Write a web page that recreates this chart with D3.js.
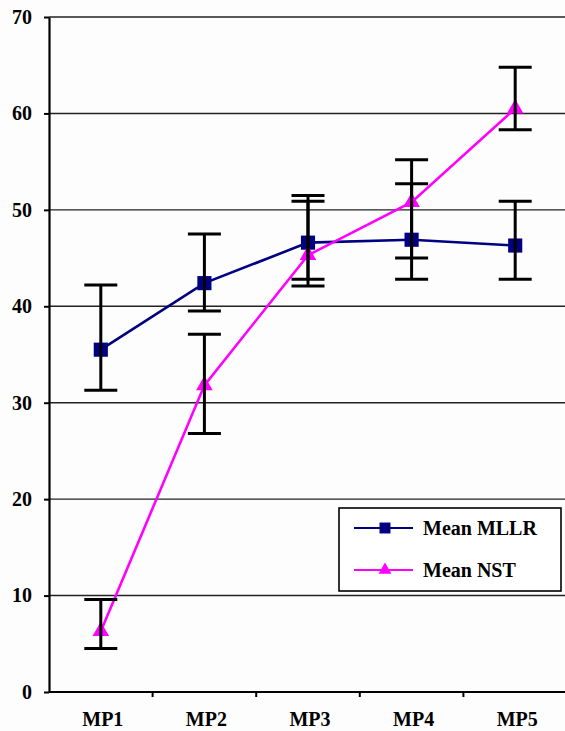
<!DOCTYPE html>
<html>
<head>
<meta charset="utf-8">
<script src="https://cdn.jsdelivr.net/npm/d3@7"></script>
<style>
  body { margin: 0; background: #fdfdfd; }
</style>
</head>
<body>
<figure id="meanChart" style="margin:0"></figure>
<script>
// categories and series
var points = ["MP1", "MP2", "MP3", "MP4", "MP5"];
var yTicks = [0, 10, 20, 30, 40, 50, 60, 70];

var mllrMean  = [35.5, 42.4, 46.6, 46.9, 46.3];
var mllrLower = [31.3, 39.5, 42.1, 42.8, 42.8];
var mllrUpper = [42.2, 47.5, 50.9, 52.7, 50.9];

var nstMean  = [6.3, 31.8, 45.3, 50.8, 60.5];
var nstLower = [4.5, 26.8, 42.8, 45.0, 58.3];
var nstUpper = [9.6, 37.1, 51.5, 55.2, 64.8];

var seriesNames = ["Mean MLLR", "Mean NST"];

function setFont(sel) {
    sel.attr("font-family", "Liberation Serif")
        .attr("font-weight", "bold")
        .attr("font-size", 20)
        .attr("fill", "#000");
}

function meanChart() {
    var width = 565, height = 731;

    var svg = d3.select("figure#meanChart")
        .append("svg")
        .attr("width", width)
        .attr("height", height);

    // scales
    var xScale = d3.scaleBand()
        .domain(points)
        .range([49, 567]);

    var yScale = d3.scaleLinear()
        .domain([0, 70])
        .range([692, 17]);

    // gridlines
    svg.append("g")
        .selectAll("line")
        .data(yTicks.slice(1))
        .enter()
        .append("line")
        .attr("x1", 49)
        .attr("x2", width)
        .attr("y1", function(d) { return yScale(d); })
        .attr("y2", function(d) { return yScale(d); })
        .attr("stroke", "#222")
        .attr("stroke-width", 1.4);

    // y axis
    var yAxis = svg.append("g")
        .attr("transform", "translate(49,0)")
        .call(d3.axisLeft(yScale).tickValues(yTicks).tickSize(5).tickPadding(12).tickSizeOuter(0));
    yAxis.select(".domain").attr("stroke", "#000").attr("stroke-width", 2.2);
    yAxis.selectAll(".tick line").attr("stroke", "#000").attr("stroke-width", 2);
    yAxis.selectAll("text").call(setFont);

    // x axis: ticks sit between the categories
    var xAxisG = svg.append("g")
        .attr("transform", "translate(0," + yScale(0) + ")");
    xAxisG.append("line")
        .attr("x1", 49).attr("x2", width)
        .attr("stroke", "#000").attr("stroke-width", 2.2);
    xAxisG.selectAll("line.tk")
        .data(points)
        .enter()
        .append("line")
        .attr("class", "tk")
        .attr("x1", function(d) { return xScale(d) + xScale.bandwidth(); })
        .attr("x2", function(d) { return xScale(d) + xScale.bandwidth(); })
        .attr("y1", 0).attr("y2", 5)
        .attr("stroke", "#000").attr("stroke-width", 2);
    xAxisG.selectAll("text")
        .data(points)
        .enter()
        .append("text")
        .attr("x", function(d) { return xScale(d) + xScale.bandwidth() / 2 + 2; })
        .attr("y", 34)
        .attr("text-anchor", "middle")
        .call(setFont)
        .text(function(d) { return d; });

    var cx = function(d, i) { return xScale(points[i]) + xScale.bandwidth() / 2; };

    var series = [
        {name: seriesNames[0], mean: mllrMean, lo: mllrLower, hi: mllrUpper, color: "#000080", symbol: d3.symbolSquare, size: 200},
        {name: seriesNames[1], mean: nstMean, lo: nstLower, hi: nstUpper, color: "#ff00ff", symbol: d3.symbolTriangle, size: 120}
    ];

    var line = d3.line()
        .x(cx)
        .y(function(d) { return yScale(d); });

    series.forEach(function(s) {
        svg.append("path")
            .datum(s.mean)
            .attr("d", line)
            .attr("fill", "none")
            .attr("stroke", s.color)
            .attr("stroke-width", 2.6);

        svg.append("g")
            .selectAll("path")
            .data(s.mean)
            .enter()
            .append("path")
            .attr("d", d3.symbol().type(s.symbol).size(s.size))
            .attr("transform", function(d, i) { return "translate(" + cx(d, i) + "," + yScale(d) + ")"; })
            .attr("fill", s.color);
    });

    // error bars on top
    series.forEach(function(s) {
        var g = svg.append("g").attr("stroke", "#000").attr("stroke-width", 3);
        s.mean.forEach(function(m, i) {
            var x = cx(m, i);
            g.append("line")
                .attr("x1", x).attr("x2", x)
                .attr("y1", yScale(s.lo[i])).attr("y2", yScale(s.hi[i]));
            [s.lo[i], s.hi[i]].forEach(function(v) {
                g.append("line")
                    .attr("x1", x - 16.5).attr("x2", x + 16.5)
                    .attr("y1", yScale(v)).attr("y2", yScale(v));
            });
        });
    });

    // legend
    var legend = svg.append("g");
    legend.append("rect")
        .attr("x", 339).attr("y", 508)
        .attr("width", 222).attr("height", 83)
        .attr("fill", "#fff")
        .attr("stroke", "#000")
        .attr("stroke-width", 1.6);

    var rows = legend.selectAll("g.row")
        .data(series)
        .enter()
        .append("g")
        .attr("class", "row")
        .attr("transform", function(d, i) { return "translate(0," + (528 + i * 42) + ")"; });
    rows.append("line")
        .attr("x1", 354).attr("x2", 413)
        .attr("stroke", function(d) { return d.color; })
        .attr("stroke-width", 2);
    rows.append("path")
        .attr("d", function(d) { return d3.symbol().type(d.symbol).size(d.size * 0.6)(); })
        .attr("transform", "translate(385,0)")
        .attr("fill", function(d) { return d.color; });
    rows.append("text")
        .attr("x", 423)
        .attr("y", 7)
        .call(setFont)
        .text(function(d) { return d.name; });
}

meanChart();
</script>
</body>
</html>
